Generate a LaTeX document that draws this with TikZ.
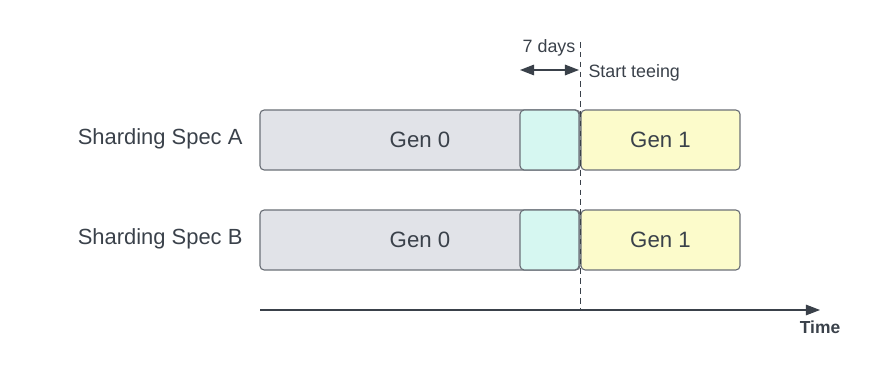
\documentclass[tikz,border=0pt]{standalone}
\usepackage{fontspec}
\setmainfont{Liberation Sans}
\usetikzlibrary{arrows.meta,calc}

\definecolor{inkc}{HTML}{3A414A}
\definecolor{edgec}{HTML}{6B7078}
\definecolor{genzero}{HTML}{E1E3E8}
\definecolor{teec}{HTML}{D6F7F1}
\definecolor{genone}{HTML}{FCFBCB}

\tikzset{
  genbox/.style={draw=edgec,line width=0.8pt,rounded corners=3pt,outer sep=0pt,
    minimum height=1.5cm,text=inkc,font=\fontsize{15.8}{18}\selectfont},
  rowlabel/.style={anchor=east,inner sep=0pt,text=inkc,font=\fontsize{15.6}{18}\selectfont},
  smalltext/.style={inner sep=0pt,text=inkc,font=\fontsize{12.7}{15}\selectfont},
}

\begin{document}
\begin{tikzpicture}[x=0.025cm,y=-0.025cm,line width=0.8pt,>={Triangle[length=10pt,width=7.5pt]}]
\useasboundingbox (0,0) rectangle (881,380);
% ---------- rows ----------
\foreach \row/\yy in {A/139,B/239}{
  \node[rowlabel] (spec\row) at (243,\yy) {Sharding Spec \row};
  \node[genbox,fill=genzero,minimum width=8cm] (gzero\row) at (420,\yy+1) {Gen 0};
  \node[genbox,fill=teec,minimum width=1.475cm] (tee\row) at (549.5,\yy+1) {};
  \node[genbox,fill=genone,minimum width=3.975cm] (gone\row) at (660.5,\yy+1) {Gen 1};
}
% ---------- time axis ----------
\coordinate (axisstart) at (260,310);
\coordinate (axisend) at (820,310);
\draw[->,draw=inkc,fill=inkc] (axisstart) -- (axisend);
\node[smalltext,font=\fontsize{12.4}{15}\selectfont\bfseries] (timelbl) at (820,327) {Time};
% ---------- teeing ----------
\coordinate (teetop) at (580,42);
\coordinate (teebot) at (580,310);
\draw[dashed,draw=inkc,line width=0.6pt,dash pattern=on 4pt off 3pt] (teetop) -- (teebot);
\coordinate (weekstart) at (520,70);
\coordinate (weekend) at (579,70);
\draw[<->,draw=inkc,fill=inkc,line width=1pt] (weekstart) -- (weekend);
\node[smalltext] (weeklbl) at (549,48) {7 days};
\node[smalltext,anchor=west] (teelbl) at (588,73) {Start teeing};
\end{tikzpicture}
\end{document}
